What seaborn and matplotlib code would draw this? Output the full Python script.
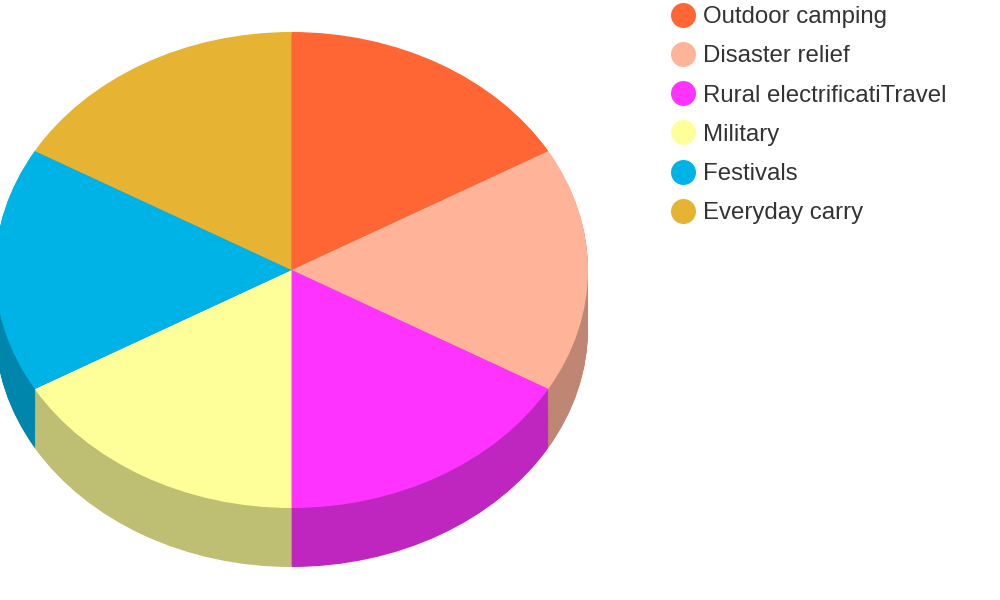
import numpy as np
import matplotlib
matplotlib.use('Agg')
import matplotlib.pyplot as plt
import matplotlib.colors as mcolors
import seaborn as sns
from matplotlib.lines import Line2D

labels = ['Outdoor camping', 'Disaster relief', 'Rural electrificatiTravel',
          'Military', 'Festivals', 'Everyday carry']
values = [1, 1, 1, 1, 1, 1]
colors = ['#FF6633', '#FFB399', '#FF33FF', '#FFFF99', '#00B3E6', '#E6B333']

sns.set_theme(style='white')
plt.rcParams['font.family'] = ['Liberation Sans', 'DejaVu Sans']

# pie geometry in pixels (1000x600 canvas)
cx, cy, rx, ry, depth_px = 291.5, 270, 296.5, 238, 59

fig = plt.figure(figsize=(10, 6), dpi=100)
ax = fig.add_axes([0, 0, 1, 1])

# side of the 3d pie: stack of darker pies shifted down
side = [tuple(c * 0.75 for c in mcolors.to_rgb(h)) for h in colors]
depth = depth_px / ry
for d in np.linspace(depth, 0, 60, endpoint=False):
    ax.pie(values, colors=side, startangle=90, counterclock=False,
           center=(0, -d), wedgeprops=dict(linewidth=0))
# top face
ax.pie(values, colors=colors, startangle=90, counterclock=False,
       wedgeprops=dict(linewidth=0))

ax.set_aspect('auto')
ax.set_xlim(-cx / rx, (1000 - cx) / rx)
ax.set_ylim((cy - 600) / ry, cy / ry)
ax.axis('off')

handles = [Line2D([], [], marker='o', linestyle='', markersize=18,
                  markerfacecolor=c, markeredgewidth=0) for c in colors]
fig.legend(handles, labels, loc='upper left', bbox_to_anchor=(0.671, 1 - 6 / 600),
           frameon=False, fontsize=17.3, labelspacing=0.72, handlelength=1,
           handletextpad=0.35, borderpad=0, borderaxespad=0, labelcolor='#333333')

fig.savefig('out.png', dpi=100)
